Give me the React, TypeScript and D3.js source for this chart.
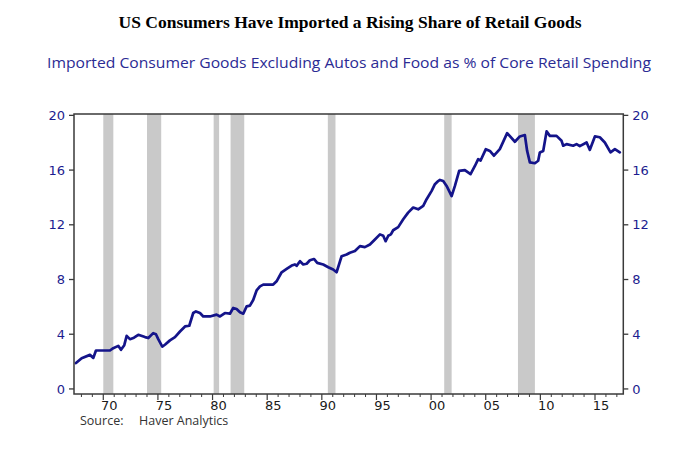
import React from "react";
import * as d3 from "d3";

const years: number[] = [
  1967.5, 1968.02, 1968.78, 1969.09, 1969.33, 1970.61, 1970.91, 1971.37, 1971.62, 1971.92,
  1972.14, 1972.44, 1972.81, 1973.2, 1973.82, 1974.12, 1974.57, 1974.82, 1975.03, 1975.4,
  1975.64, 1976.1, 1976.56, 1977.02, 1977.48, 1977.87, 1978.23, 1978.48, 1978.85, 1979.15,
  1979.76, 1980.37, 1980.68, 1981.13, 1981.59, 1981.89, 1982.2, 1982.51, 1982.81, 1983.12,
  1983.42, 1983.72, 1984.03, 1984.34, 1984.64, 1985.55, 1985.86, 1986.32, 1986.78, 1987.24,
  1987.54, 1987.69, 1988.0, 1988.3, 1988.61, 1988.91, 1989.28, 1989.58, 1990.13, 1990.59,
  1991.04, 1991.35, 1991.81, 1992.27, 1992.57, 1993.03, 1993.49, 1993.94, 1994.4, 1994.86,
  1995.32, 1995.62, 1995.84, 1996.08, 1996.32, 1996.53, 1996.99, 1997.45, 1997.9, 1998.36,
  1998.82, 1999.28, 1999.59, 2000.05, 2000.35, 2000.65, 2000.81, 2001.11, 2001.42, 2001.88,
  2002.18, 2002.57, 2003.09, 2003.61, 2004.01, 2004.31, 2004.53, 2005.01, 2005.38, 2005.75,
  2006.29, 2006.96, 2007.67, 2008.12, 2008.58, 2008.79, 2009.04, 2009.5, 2009.8, 2009.95,
  2010.26, 2010.57, 2010.87, 2011.48, 2011.94, 2012.09, 2012.4, 2013.0, 2013.31, 2013.61,
  2014.23, 2014.53, 2014.99, 2015.44, 2015.9, 2016.42, 2016.82, 2017.27,
];

const shares: number[] = [
  1.89, 2.25, 2.49, 2.27, 2.81, 2.81, 2.98, 3.15, 2.86, 3.2,
  3.88, 3.64, 3.75, 3.96, 3.79, 3.72, 4.08, 4.0, 3.64, 3.1,
  3.23, 3.55, 3.79, 4.2, 4.57, 4.62, 5.55, 5.67, 5.55, 5.3,
  5.3, 5.43, 5.3, 5.55, 5.5, 5.92, 5.84, 5.6, 5.5, 6.04,
  6.09, 6.5, 7.2, 7.5, 7.63, 7.63, 7.87, 8.53, 8.78, 9.02,
  9.1, 9.0, 9.34, 9.1, 9.15, 9.41, 9.5, 9.22, 9.1, 8.9,
  8.73, 8.53, 9.7, 9.83, 9.96, 10.08, 10.44, 10.37, 10.56, 10.93,
  11.3, 11.2, 10.8, 11.2, 11.3, 11.6, 11.83, 12.4, 12.89, 13.26,
  13.13, 13.38, 13.87, 14.48, 14.97, 15.2, 15.28, 15.2, 14.84, 14.1,
  14.84, 15.94, 16.0, 15.7, 16.3, 16.8, 16.7, 17.53, 17.4, 17.05,
  17.53, 18.7, 18.07, 18.46, 18.56, 17.4, 16.56, 16.5, 16.68, 17.29,
  17.4, 18.83, 18.5, 18.5, 18.14, 17.78, 17.9, 17.78, 17.9, 17.75,
  18.02, 17.48, 18.46, 18.4, 18.02, 17.3, 17.53, 17.3,
];

const recessionStarts: number[] = [1970.0, 1974.0, 1980.1, 1981.65, 1990.55, 2001.2, 2007.95];
const recessionEnds: number[] = [1970.92, 1975.3, 1980.6, 1982.9, 1991.25, 2001.88, 2009.5];

const yTicks: number[] = [0, 4, 8, 12, 16, 20];
const xMajorTicks: number[] = [1970, 1975, 1980, 1985, 1990, 1995, 2000, 2005, 2010, 2015];
const xTickLabels: string[] = ["70", "75", "80", "85", "90", "95", "00", "05", "10", "15"];

const title = "US Consumers Have Imported a Rising Share of Retail Goods";
const subtitle = "Imported Consumer Goods Excluding Autos and Food as % of Core Retail Spending";
const sourceLabel = "Source:";
const sourceName = "Haver Analytics";

export default function App() {
  const W = 700;
  const H = 455;
  const x = d3.scaleLinear().domain([1967.32, 2017.59]).range([74, 623.3]);
  const y = d3.scaleLinear().domain([-0.37, 20.1]).range([394, 114]);
  const [x0, x1] = x.range();
  const yBottom = y(-0.37);
  const yTop = y(20.1);

  const data = years.map((yr, i) => [yr, shares[i]] as [number, number]);
  const line = d3
    .line<[number, number]>()
    .x((d) => x(d[0]))
    .y((d) => y(d[1]));

  const minorTicks = d3.range(1968, 2018).filter((v) => v % 5 !== 0);

  const axisColor = "#3a3a3a";
  const blue = "#1c1c8f";

  return (
    <svg
      width={W}
      height={H}
      style={{ position: "absolute", left: 0, top: 0, background: "#fff" }}
    >
      <rect x={0} y={0} width={W} height={H} fill="#fff" />
      <text
        x={350}
        y={28}
        textAnchor="middle"
        fontFamily="Liberation Serif, serif"
        fontWeight="bold"
        fontSize={17.5}
        fill="#000"
      >
        {title}
      </text>
      <text
        x={349}
        y={68}
        textAnchor="middle"
        fontFamily="Open Sans, sans-serif"
        fontSize={14}
        fill="#2b2b94"
        textLength={604}
        lengthAdjust="spacingAndGlyphs"
      >
        {subtitle}
      </text>

      {recessionStarts.map((s, i) => (
        <rect
          key={"r" + i}
          x={x(s)}
          y={yTop}
          width={x(recessionEnds[i]) - x(s)}
          height={yBottom - yTop}
          fill="#c9c9c9"
        />
      ))}

      <path
        d={line(data) || ""}
        fill="none"
        stroke="#14148a"
        strokeWidth={2.7}
        strokeLinejoin="round"
        strokeLinecap="round"
      />

      <rect
        x={x0}
        y={yTop}
        width={x1 - x0}
        height={yBottom - yTop}
        fill="none"
        stroke={axisColor}
        strokeWidth={1.5}
      />

      {yTicks.map((t) => (
        <g key={"y" + t}>
          <line x1={x0 - 5} x2={x0} y1={y(t)} y2={y(t)} stroke={axisColor} strokeWidth={1.3} />
          <line x1={x1} x2={x1 + 5} y1={y(t)} y2={y(t)} stroke={axisColor} strokeWidth={1.3} />
          <text
            x={x0 - 9}
            y={y(t)}
            dy="0.36em"
            textAnchor="end"
            fontFamily="DejaVu Sans, sans-serif"
            fontSize={13}
            fill={blue}
          >
            {t}
          </text>
          <text
            x={x1 + 9}
            y={y(t)}
            dy="0.36em"
            textAnchor="start"
            fontFamily="DejaVu Sans, sans-serif"
            fontSize={13}
            fill={blue}
          >
            {t}
          </text>
        </g>
      ))}

      {minorTicks.map((t) => (
        <line
          key={"m" + t}
          x1={x(t)}
          x2={x(t)}
          y1={yBottom}
          y2={yBottom + 3}
          stroke={axisColor}
          strokeWidth={1}
        />
      ))}
      {xMajorTicks.map((t, i) => (
        <g key={"x" + t}>
          <line x1={x(t)} x2={x(t)} y1={yBottom} y2={yBottom + 6} stroke={axisColor} strokeWidth={1.2} />
          <text
            x={x(t + 0.55)}
            y={410}
            textAnchor="middle"
            fontFamily="DejaVu Sans, sans-serif"
            fontSize={13}
            fill="#1a1a1a"
          >
            {xTickLabels[i]}
          </text>
        </g>
      ))}

      <text x={80} y={425} fontFamily="Open Sans, sans-serif" fontSize={12.5} fill="#333">
        {sourceLabel}
      </text>
      <text x={139} y={425} fontFamily="Open Sans, sans-serif" fontSize={12.5} fill="#333">
        {sourceName}
      </text>
    </svg>
  );
}
